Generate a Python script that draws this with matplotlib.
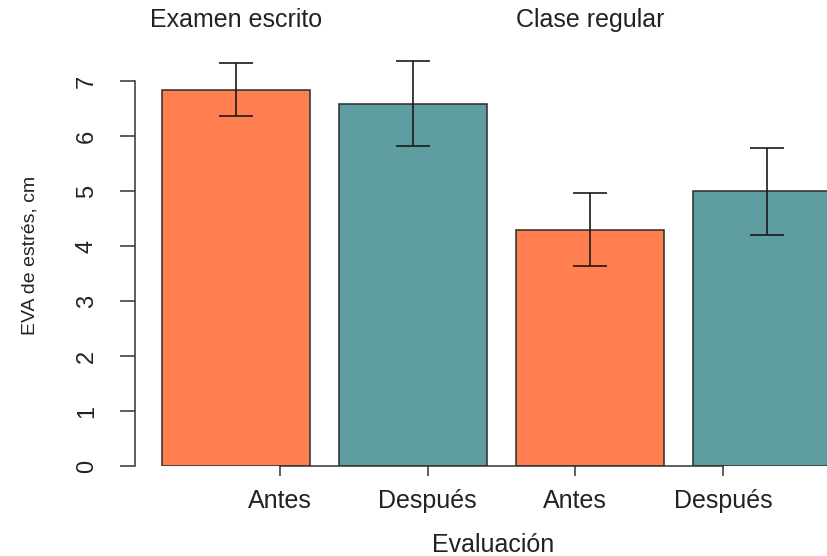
import numpy as np
import matplotlib.pyplot as plt

plt.rcParams['font.family'] = ['Liberation Sans', 'DejaVu Sans']

# Medias de EVA de estrés (cm) con sus intervalos
grupos = ['Examen escrito', 'Clase regular']
momentos = ['Antes', 'Después', 'Antes', 'Después']
medias = np.array([6.84, 6.58, 4.30, 5.00])
inferior = np.array([6.36, 5.82, 3.64, 4.20])
superior = np.array([7.33, 7.36, 4.96, 5.78])
colores = ['#FF7F50', '#5F9EA0', '#FF7F50', '#5F9EA0']

# posiciones tipo barplot de R: ancho 1, espacio 0.2
centros = 0.7 + 1.2 * np.arange(len(medias))
ticks_x = [1, 2, 3, 4]
xmin, xmax = 0.016, 4.984

fig = plt.figure(figsize=(8.28, 5.56), dpi=100)
ax = fig.add_axes([135 / 828, 90 / 556, 733 / 828, 418 / 556])

ax.bar(centros, medias, width=1.0, color=colores, edgecolor='#2b2b2b', linewidth=1.1)
ax.errorbar(centros, medias, yerr=[medias - inferior, superior - medias], fmt='none',
            ecolor='#1a1a1a', elinewidth=1.2, capsize=12.5, capthick=1.2)

ax.set_xlim(xmin, xmax)
ax.set_ylim(0, 7.6)

for s in ['top', 'right']:
    ax.spines[s].set_visible(False)
ax.spines['left'].set_bounds(0, 7)
ax.spines['bottom'].set_bounds(1, 4)
for s in ['left', 'bottom']:
    ax.spines[s].set_color('#333333')
    ax.spines[s].set_linewidth(1.1)

ax.set_yticks(range(8))
ax.set_yticklabels([str(i) for i in range(8)], rotation=90, va='center')
ax.tick_params(axis='y', length=10.8, width=1.1, pad=16, labelsize=17,
               color='#333333', labelcolor='#222222')
ax.set_xticks(ticks_x)
ax.set_xticklabels(momentos)
ax.tick_params(axis='x', length=7.5, width=1.1, pad=9, labelsize=18,
               color='#333333', labelcolor='#222222')

# etiquetas de grupo arriba, centradas sobre la primera barra de cada grupo
for g, xc in zip(grupos, [centros[0], centros[2]]):
    xf = 135 / 828 + (xc - xmin) / (xmax - xmin) * 733 / 828
    fig.text(xf, 1 - 20 / 556, g, ha='center', va='center', fontsize=18, color='#222222')

fig.text(493 / 828, 1 - 545 / 556, 'Evaluación', ha='center', va='center',
         fontsize=18, color='#222222')
fig.text(30 / 828, 1 - 255 / 556, 'EVA de estrés, cm', ha='center', va='center',
         rotation=90, fontsize=14, color='#222222')

fig.savefig('out.png', dpi=100)
